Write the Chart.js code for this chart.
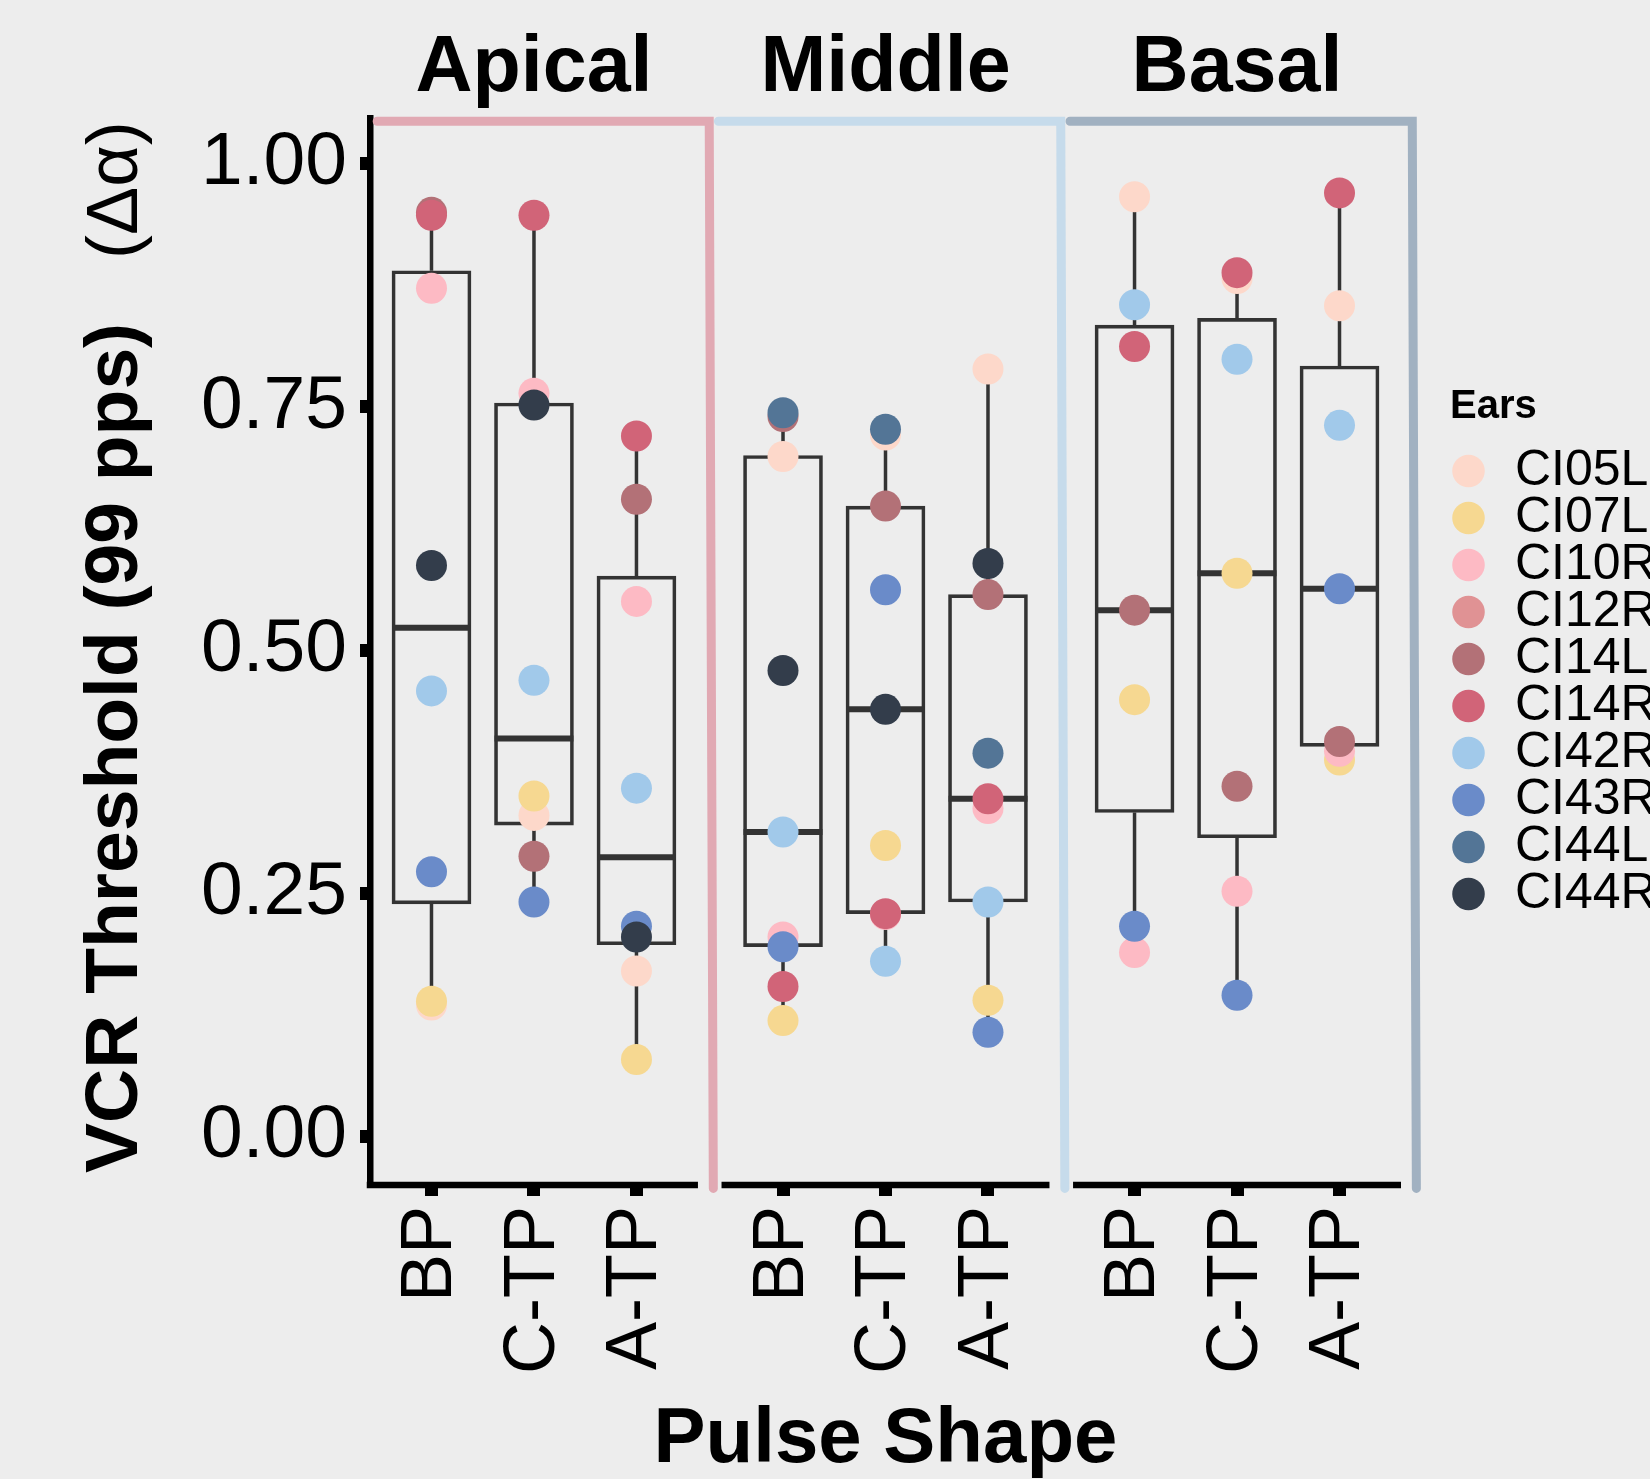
<!DOCTYPE html>
<html>
<head>
<meta charset="utf-8">
<title>VCR Threshold by pulse shape</title>
<script src="https://cdn.jsdelivr.net/npm/chart.js@4.4.1/dist/chart.umd.min.js"></script>
<style>
  html, body { margin: 0; padding: 0; background: #ededed; overflow: hidden; }
  #wrap { position: relative; width: 1650px; height: 1479px; }
</style>
</head>
<body>
<div id="wrap"><canvas id="vcrChart" width="1650" height="1479"></canvas></div>
<script>
// categories
const panels = ['Apical', 'Middle', 'Basal'];
const shapes = ['BP', 'C-TP', 'A-TP'];
const ears = ['CI05L', 'CI07L', 'CI10R', 'CI12R', 'CI14L', 'CI14R', 'CI42R', 'CI43R', 'CI44L', 'CI44R'];
const earColors = ['#FDD8CA', '#F6D891', '#FDBAC4', '#E09294', '#B37177', '#D16478', '#A1C9EA', '#6A8BC9', '#537596', '#333D4B'];

// thresholds per ear: Apical BP, C-TP, A-TP | Middle BP, C-TP, A-TP | Basal BP, C-TP, A-TP
const ci05L = [0.135, 0.330, 0.170, 0.699, 0.721, 0.789, 0.966, 0.882, 0.854];
const ci07L = [0.139, 0.350, 0.079, 0.119, 0.299, 0.140, 0.449, 0.579, 0.387];
const ci10R = [0.872, 0.764, 0.550, 0.205, 0.228, 0.337, 0.189, 0.252, 0.396];
const ci12R = [null, null, null, null, null, null, null, null, null];
const ci14L = [0.950, 0.288, 0.655, 0.740, 0.648, 0.557, 0.541, 0.360, 0.406];
const ci14R = [0.947, 0.947, 0.720, 0.154, 0.229, 0.347, 0.812, 0.888, 0.970];
const ci42R = [0.458, 0.469, 0.358, 0.313, 0.180, 0.241, 0.855, 0.799, 0.731];
const ci43R = [0.272, 0.241, 0.216, 0.195, 0.562, 0.107, 0.216, 0.145, 0.563];
const ci44L = [null, null, null, 0.744, 0.727, 0.394, null, null, null];
const ci44R = [0.587, 0.752, 0.205, 0.479, 0.439, 0.589, null, null, null];

// box summaries, same order
const boxLow    = [0.135, 0.241, 0.079, 0.119, 0.180, 0.107, 0.189, 0.145, 0.387];
const boxQ1     = [0.239, 0.320, 0.197, 0.195, 0.229, 0.241, 0.333, 0.307, 0.401];
const boxMedian = [0.523, 0.409, 0.287, 0.313, 0.439, 0.347, 0.541, 0.579, 0.563];
const boxQ3     = [0.890, 0.754, 0.576, 0.700, 0.648, 0.557, 0.834, 0.841, 0.792];
const boxHigh   = [0.950, 0.947, 0.720, 0.744, 0.727, 0.789, 0.966, 0.888, 0.970];

const yTickValues = [0, 0.25, 0.5, 0.75, 1];
const yTickLabels = ['0.00', '0.25', '0.50', '0.75', '1.00'];
const yTitle = ['VCR Threshold (99 pps)', '(\u0394\u03b1)'];
const xTitle = 'Pulse Shape';
const legendTitle = 'Ears';

// ---- layout / style ----
const FONT = '"Liberation Sans", Arial, Helvetica, sans-serif';
const stripColors = ['#E1A9B3', '#C6DBEB', '#A1B1C1'];
const panelStep = 3.43;
const boxHalf = 0.385;
const xRange = [0.4, 10.46];

Chart.defaults.font.family = FONT;
Chart.defaults.color = '#000';

const earValues = [ci05L, ci07L, ci10R, ci12R, ci14L, ci14R, ci42R, ci43R, ci44L, ci44R];

// x position of every panel/shape slot on the shared linear axis
const xPos = [];
panels.forEach((p, pi) => shapes.forEach((s, si) => xPos.push(pi * panelStep + si + 1)));

const earSets = ears.map((ear, i) => ({
    type: 'scatter',
    label: ear,
    data: earValues[i].map((v, k) => ({ x: xPos[k], y: v })),
    backgroundColor: earColors[i],
    borderColor: earColors[i],
    pointBackgroundColor: earColors[i],
    pointBorderWidth: 0,
    pointRadius: 15.5,
    pointHoverRadius: 15.5,
    pointStyle: 'circle',
    order: 100 - i
}));

const boxSet = {
    type: 'bar',
    label: 'box',
    data: xPos.map((x, k) => ({ x: x, y: [boxQ1[k], boxQ3[k]] })),
    backgroundColor: 'rgba(0,0,0,0)',
    borderColor: '#333333',
    borderWidth: 3,
    borderSkipped: false,
    barThickness: 79,
    order: 200
};

const whiskerData = [];
const medianData = [];
xPos.forEach((x, k) => {
    whiskerData.push({ x: x, y: boxLow[k] }, { x: x, y: boxQ1[k] }, { x: x, y: null },
                     { x: x, y: boxQ3[k] }, { x: x, y: boxHigh[k] }, { x: x, y: null });
    medianData.push({ x: x - boxHalf, y: boxMedian[k] }, { x: x + boxHalf, y: boxMedian[k] }, { x: x, y: null });
});

const lineBase = { type: 'line', pointRadius: 0, pointHoverRadius: 0, fill: false, tension: 0, spanGaps: false };
const whiskerSet = Object.assign({}, lineBase, { label: 'whisker', data: whiskerData, borderColor: '#333333', borderWidth: 3.5, order: 210 });
const medianSet = Object.assign({}, lineBase, { label: 'median', data: medianData, borderColor: '#333333', borderWidth: 6, borderCapStyle: 'butt', order: 190 });

// coloured bracket over each panel
const stripSets = panels.map((p, pi) => {
    const base = pi * panelStep;
    const left = base + (pi === 0 ? 0.47 : 0.37);
    const corner = base + 3.71;
    return Object.assign({}, lineBase, {
        label: 'strip ' + p,
        data: [{ x: left, y: 1.0437 }, { x: corner, y: 1.0437 }, { x: corner + 0.04, y: -0.0535 }],
        borderColor: stripColors[pi],
        borderWidth: 9,
        borderCapStyle: 'round',
        borderJoinStyle: 'miter',
        clip: false,
        order: 300
    });
});

// panel titles, split x axis line, y axis title
const panelDecor = {
    id: 'panelDecor',
    afterDraw(chart) {
        const { ctx, chartArea } = chart;
        const x = chart.scales.x;
        ctx.save();
        ctx.strokeStyle = '#000';
        ctx.lineWidth = 6.5;
        ctx.lineCap = 'butt';
        panels.forEach((p, pi) => {
            const base = pi * panelStep;
            const x0 = x.getPixelForValue(base + 0.4) - (pi === 0 ? 3.25 : 0);
            const x1 = x.getPixelForValue(base + 3.6);
            ctx.beginPath();
            ctx.moveTo(x0, chartArea.bottom);
            ctx.lineTo(x1, chartArea.bottom);
            ctx.stroke();

            ctx.fillStyle = '#000';
            ctx.font = 'bold 79px ' + FONT;
            ctx.textAlign = 'center';
            ctx.textBaseline = 'alphabetic';
            ctx.fillText(p, x.getPixelForValue(base + 2), 91);
        });

        ctx.translate(137, 1173);
        ctx.rotate(-Math.PI / 2);
        ctx.textAlign = 'left';
        ctx.textBaseline = 'alphabetic';
        ctx.font = 'bold 75px ' + FONT;
        ctx.fillText(yTitle[0], 0, 0);
        const w = ctx.measureText(yTitle[0]).width;
        ctx.font = '72px ' + FONT;
        ctx.fillText(yTitle[1], w + 64, 0);
        ctx.restore();
    }
};

// fixed x range, set after the data limits so the bracket lines past the edge are still drawn
const pinXRange = (scale) => { scale.min = xRange[0]; scale.max = xRange[1]; };

document.addEventListener('DOMContentLoaded', function() {
    const ctx = document.getElementById('vcrChart').getContext('2d');
    new Chart(ctx, {
        type: 'scatter',
        data: { datasets: earSets.concat([boxSet, whiskerSet, medianSet]).concat(stripSets) },
        options: {
            responsive: false,
            animation: false,
            devicePixelRatio: 1,
            events: [],
            layout: { padding: { top: 118, left: 0, right: 0, bottom: 0 } },
            plugins: {
                tooltip: { enabled: false },
                legend: {
                    position: 'right',
                    fullSize: false,
                    align: 'center',
                    maxWidth: 200,
                    title: {
                        display: true,
                        text: legendTitle,
                        position: 'start',
                        color: '#000',
                        font: { size: 40, weight: 'bold', lineHeight: 1.2 },
                        padding: { top: 0, bottom: 14 }
                    },
                    labels: {
                        usePointStyle: true,
                        pointStyle: 'circle',
                        boxWidth: 43,
                        boxHeight: 23,
                        padding: -3,
                        color: '#000',
                        font: { size: 50 },
                        filter: (item) => item.datasetIndex < ears.length,
                        sort: (a, b) => a.datasetIndex - b.datasetIndex
                    }
                }
            },
            scales: {
                x: {
                    type: 'linear',
                    offset: false,
                    bounds: 'data',
                    afterDataLimits: pinXRange,
                    afterBuildTicks: (scale) => {
                        pinXRange(scale);
                        scale.ticks = xPos.map(v => ({ value: v }));
                    },
                    afterFit: (scale) => { scale.height = 294; },
                    border: { display: false },
                    grid: { display: true, offset: false, drawOnChartArea: false, drawTicks: true, tickLength: 11, tickWidth: 13, tickColor: '#000' },
                    ticks: {
                        autoSkip: false,
                        minRotation: 90,
                        maxRotation: 90,
                        padding: 10,
                        color: '#000',
                        font: { size: 72 },
                        callback: (value, index) => shapes[index % shapes.length]
                    },
                    title: {
                        display: true,
                        text: xTitle,
                        color: '#000',
                        font: { size: 78, weight: 'bold', lineHeight: 1 },
                        padding: { top: 0, bottom: 0 }
                    }
                },
                y: {
                    type: 'linear',
                    min: -0.05,
                    max: 1.047,
                    afterBuildTicks: (scale) => { scale.ticks = yTickValues.map(v => ({ value: v })); },
                    afterFit: (scale) => { scale.width = 370; },
                    border: { display: true, color: '#000', width: 6.5 },
                    grid: { display: true, drawOnChartArea: false, drawTicks: true, tickLength: 10, tickWidth: 13, tickColor: '#000' },
                    ticks: {
                        padding: 13,
                        color: '#000',
                        font: { size: 75 },
                        callback: (value, index) => yTickLabels[index]
                    }
                },
                // empty spacer between the panels and the legend
                yr: {
                    type: 'linear',
                    position: 'right',
                    afterFit: (scale) => { scale.width = 49; },
                    border: { display: false },
                    grid: { display: false },
                    ticks: { display: false }
                }
            }
        },
        plugins: [panelDecor]
    });
});
</script>
</body>
</html>
